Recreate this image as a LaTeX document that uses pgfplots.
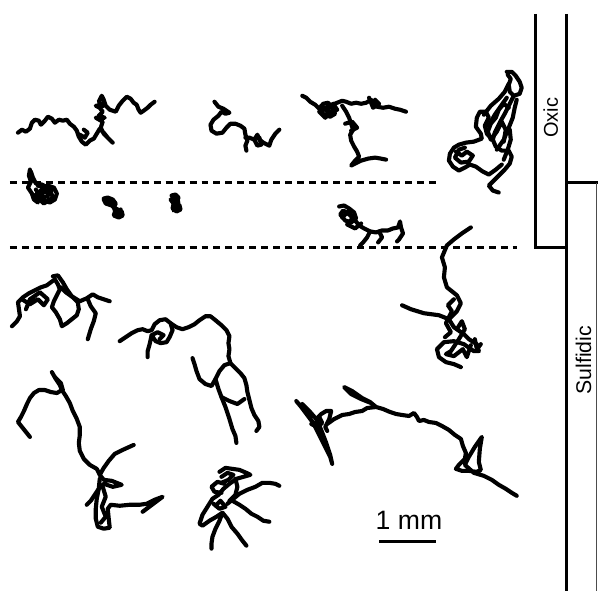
\documentclass[border=0pt]{standalone}
\usepackage{pgfplots}
\pgfplotsset{compat=1.18}
\usepackage{fontspec}
\setmainfont{Liberation Sans}
\pgfplotsset{traj/.style={black, line width=3.1pt, line join=round, line cap=round, mark=none}}
\begin{document}
\begin{tikzpicture}
\begin{axis}[scale only axis, width=449.25pt, height=444pt,
  xmin=0, xmax=599, ymin=0, ymax=592, y dir=reverse, hide axis, clip=false]
\addplot[draw=none, mark=none] coordinates {(0,0) (599,592)};
% A
\addplot[traj] coordinates {(18,133)(22,130)(26,132)(30,129)(32,123)(35,120)(39,121)(41,125)(45,121)(48,117)(52,119)(55,123)(59,120)(63,121)(67,120)(70,124)(74,127)(77,131)(79,137)(82,142)(86,145)(90,141)(94,139)(97,134)(100,129)(104,133)(108,138)(113,143)(109,139)(104,134)(101,128)(103,122)(96,118)(105,118)(99,116)(103,112)(100,108)(96,106)(104,106)(99,102)(102,96)(104,100)(106,106)(110,110)(116,112)(119,106)(123,101)(127,97)(131,99)(134,103)(137,105)(139,110)(141,113)(144,111)(148,108)(151,105)(155,102)};
\addplot[traj] coordinates {(80,135)(85,138)(88,133)(84,130)};
% B
\addplot[traj] coordinates {(30,170)(29,176)(31,182)(28,188)(32,194)(34,200)(38,203)(37,196)(42,190)(48,186)(54,188)(57,194)(55,200)(50,203)(44,201)(40,196)(45,192)(50,195)(48,188)(42,185)(36,184)(33,178)(31,172)};
\addplot[traj] coordinates {(36,190)(41,198)(47,197)(52,191)(46,189)(40,192)(35,196)(44,204)(53,198)(50,190)(38,186)};
% C
\addplot[traj] coordinates {(104,199)(108,198)(113,200)(116,204)(114,208)(118,210)(122,212)(123,216)(119,218)(114,216)(116,210)(112,206)(106,204)(104,200)(110,202)(118,214)(121,210)(117,216)(112,202)};
% D
\addplot[traj] coordinates {(172,196)(176,195)(179,198)(177,203)(180,206)(181,210)(177,212)(173,209)(174,204)(171,200)(176,200)(178,208)(174,211)(179,202)(174,198)};
% E
\addplot[traj] coordinates {(215,102)(219,107)(224,109)(230,113)(226,114)(222,112)(219,116)(214,120)(211,125)(212,131)(217,134)(223,133)(227,128)(231,124)(236,124)(241,126)(245,129)(246,135)(248,141)(246,146)(247,151)};
\addplot[traj] coordinates {(246,138)(250,138)(255,140)(258,135)(260,140)(264,143)(270,146)(272,140)(276,134)(280,130)};
\addplot[traj] coordinates {(255,140)(258,146)(262,145)(260,138)};
% F
\addplot[traj] coordinates {(303,96)(307,98)(311,102)(316,105)(320,109)(324,104)(329,103)(333,108)(336,114)(331,117)(325,115)(321,111)(327,108)(333,105)(338,103)(343,101)(347,102)(352,104)(357,103)(362,104)(367,103)(372,100)(375,103)(378,107)(384,108)(390,107)(396,109)(401,110)(407,112)};
\addplot[traj] coordinates {(320,112)(326,118)(332,112)(338,110)(334,104)(328,110)(322,106)(330,114)};
\addplot[traj] coordinates {(370,98)(374,108)(380,104)(376,100)};
\addplot[traj] coordinates {(343,106)(347,112)(350,118)(352,124)(354,130)(351,135)(352,141)(355,147)(358,152)(360,157)(356,161)(352,166)(356,164)(362,161)(369,159)(376,158)(382,159)(387,160)};
\addplot[traj] coordinates {(346,124)(353,122)(358,128)(352,131)};
% G
\addplot[traj] coordinates {(508,72)(513,72)(517,76)(521,82)(523,88)(521,94)(515,96)(511,92)(510,85)(512,79)(509,75)};
\addplot[traj] coordinates {(515,96)(512,102)(509,108)(506,114)(502,121)(499,127)(496,133)(494,140)(497,147)(503,151)(510,151)(513,157)(511,164)(506,170)(500,176)(495,181)(490,186)(494,191)(500,193)};
\addplot[traj] coordinates {(510,108)(505,104)(500,110)(497,118)(492,124)(489,132)(492,140)(498,132)(503,122)(507,130)(505,142)};
\addplot[traj] coordinates {(485,115)(492,106)(500,99)(506,92)(510,84)};
\addplot[traj] coordinates {(490,126)(496,115)(503,105)(508,98)};
\addplot[traj] coordinates {(498,150)(505,140)(510,128)(514,118)(516,108)(518,100)};
\addplot[traj] coordinates {(505,160)(509,150)(512,140)(511,130)};
\addplot[traj] coordinates {(494,140)(488,134)(486,126)(490,118)(487,112)(481,112)(478,118)(477,127)(482,134)(483,139)(475,142)(467,143)(460,145)(455,148)(451,154)(450,161)(454,167)(460,171)(466,168)(471,165)(477,167)(484,172)(490,175)(497,170)(503,165)};
\addplot[traj] coordinates {(457,152)(463,156)(468,152)(474,156)(470,162)(462,163)(456,158)(460,150)(466,148)};
% H
\addplot[traj] coordinates {(340,207)(345,206)(350,209)(355,213)(357,219)(352,223)(346,221)(341,215)(344,211)(350,215)(356,221)(360,226)(365,229)(371,232)(377,233)(383,231)(389,231)(394,229)(399,228)(401,222)(402,228)(404,234)(400,240)(398,242)};
\addplot[traj] coordinates {(343,218)(349,212)(354,218)(348,225)(356,229)(362,224)};
\addplot[traj] coordinates {(371,232)(368,238)(364,243)(361,246)};
\addplot[traj] coordinates {(380,232)(383,238)(379,243)};
% I
\addplot[traj] coordinates {(403,306)(412,310)(425,314)(440,316)(450,320)(458,312)(462,304)(458,296)(448,288)(445,278)(446,268)(443,258)(448,246)(455,240)(463,234)(472,228)};
\addplot[traj] coordinates {(450,320)(455,328)(465,335)(470,340)(478,345)(480,352)(475,352)(465,345)(455,342)(445,343)(438,350)(440,358)(447,363)(455,365)(462,368)};
\addplot[traj] coordinates {(455,300)(449,306)(453,312)(447,324)(452,333)(446,338)};
\addplot[traj] coordinates {(458,330)(463,322)(466,330)(460,340)(452,352)(447,355)(455,357)(464,350)(468,358)(472,346)};
\addplot[traj] coordinates {(476,340)(478,350)(482,345)};
% J
\addplot[traj] coordinates {(12,327)(17,322)(20,317)(19,310)(18,303)(23,298)(29,294)(35,291)(41,288)(47,286)(51,283)(55,280)(58,285)(60,290)(57,296)(54,302)(52,308)(56,313)(60,320)(62,327)(67,324)(72,320)(77,316)(79,310)(78,303)(73,298)(66,293)(61,288)};
\addplot[traj] coordinates {(53,277)(58,276)(63,283)(67,290)(72,297)(80,302)(87,299)(93,295)(98,298)(104,300)(110,302)};
\addplot[traj] coordinates {(88,300)(91,307)(96,314)(94,322)(91,330)(88,340)};
\addplot[traj] coordinates {(22,300)(30,305)(38,300)(44,306)(48,300)(40,293)(30,300)(26,310)};
% K
\addplot[traj] coordinates {(120,342)(126,338)(132,334)(138,331)(143,330)(148,332)(152,331)(155,325)(160,321)(166,320)(171,324)(173,331)(170,338)(167,343)(161,344)(156,342)(152,336)(150,345)(148,352)(148,358)};
\addplot[traj] coordinates {(152,336)(158,333)(164,336)(160,340)};
\addplot[traj] coordinates {(171,324)(177,328)(183,330)(189,328)(195,325)(200,321)(206,317)(211,317)(216,321)(222,326)(227,331)(230,337)(229,344)(230,350)(229,357)(231,364)(236,369)(241,374)(245,379)(247,386)(248,393)(250,401)(252,409)(255,416)(259,422)(260,428)(257,432)};
\addplot[traj] coordinates {(231,364)(225,366)(220,372)(216,380)(212,387)(206,385)(200,380)(197,372)(195,365)(193,359)};
\addplot[traj] coordinates {(216,380)(219,390)(222,398)(226,408)(230,420)(233,430)(236,437)(237,444)};
\addplot[traj] coordinates {(222,398)(230,402)(238,405)(245,400)};
% L
\addplot[traj] coordinates {(52,373)(56,380)(60,386)(62,391)(57,394)(51,393)(45,391)(39,391)(34,394)(30,399)(27,405)(24,412)(21,418)(18,423)(22,428)(26,433)(30,438)};
\addplot[traj] coordinates {(55,378)(61,384)(63,391)};
\addplot[traj] coordinates {(62,391)(66,397)(70,404)(73,412)(77,420)(80,428)(80,436)(79,444)(80,452)(84,460)(90,466)(97,470)(100,476)(104,469)(109,462)(115,455)(123,451)(134,446)};
\addplot[traj] coordinates {(100,476)(104,481)(112,482)(122,486)(113,488)(104,485)(99,490)(95,496)(91,502)(87,506)};
\addplot[traj] coordinates {(100,480)(99,490)(97,500)(96,510)(96,520)(98,528)(104,530)(110,529)(109,520)(108,510)(111,506)(120,507)(130,506)(140,506)(147,505)(155,501)(163,498)(155,504)(147,510)(143,513)};
\addplot[traj] coordinates {(103,488)(106,498)(102,508)(106,518)(101,524)};
% M
\addplot[traj] coordinates {(220,473)(226,469)(233,470)(240,471)(247,474)(251,476)(244,478)(237,480)(230,485)(224,490)(219,496)(213,500)(208,508)(203,516)(200,525)(203,527)(210,522)(217,518)(223,514)(228,520)(232,528)(238,535)(243,542)(247,547)};
\addplot[traj] coordinates {(223,514)(220,522)(216,530)(213,538)(212,545)(212,550)};
\addplot[traj] coordinates {(228,505)(234,500)(240,495)(248,491)(256,488)(263,484)(270,484)(276,485)(280,487)};
\addplot[traj] coordinates {(233,502)(240,506)(246,510)(252,515)(258,518)(264,522)(270,523)};
\addplot[traj] coordinates {(225,485)(218,483)(212,488)(215,493)(222,494)};
\addplot[traj] coordinates {(236,480)(238,488)(236,496)(230,502)};
\addplot[traj] coordinates {(222,478)(228,474)(234,476)(229,481)(222,484)};
\addplot[traj] coordinates {(214,505)(220,510)(226,508)(221,502)(216,507)};
% N
\addplot[traj] coordinates {(297,402)(302,408)(308,416)(314,424)(320,436)(326,448)(331,458)(333,465)(331,456)(327,444)(322,431)(317,420)(310,412)(303,405)};
\addplot[traj] coordinates {(317,420)(322,415)(327,412)(332,412)(330,420)(326,428)(328,432)};
\addplot[traj] coordinates {(312,425)(318,428)(323,424)(320,418)};
\addplot[traj] coordinates {(328,425)(335,420)(343,416)(350,415)(356,413)(363,412)(368,409)(377,408)(372,404)(362,400)(352,395)(345,388)(353,392)(363,399)(371,403)(377,408)(384,410)(391,413)(397,415)(403,416)(410,417)(415,414)(418,418)(420,422)(425,421)(430,423)(437,424)(443,427)(450,431)(456,436)(462,440)(464,447)(467,454)(466,460)(460,466)(457,470)(463,472)(470,472)(478,473)(482,471)(480,463)(481,450)(483,438)(476,448)(470,458)(466,466)(475,474)(485,477)(493,481)(500,486)(507,490)(513,494)(518,497)};
% dashed lines
\addplot[black, line width=2.4pt, dash pattern=on 5.25pt off 3.75pt, mark=none] coordinates {(10,183)(440,183)};
\addplot[black, line width=2.4pt, dash pattern=on 5.25pt off 3.75pt, mark=none] coordinates {(10,248)(518,248)};
% scale bar
\addplot[black, line width=2.2pt, mark=none] coordinates {(380,543)(437,543)};
\node[font=\fontsize{20pt}{20pt}\selectfont] at (axis cs:410,522) {1 mm};
% right panel
\addplot[black, line width=2.2pt, mark=none] coordinates {(537,14)(537,248)(568,248)};
\addplot[black, line width=2.2pt, mark=none] coordinates {(568,14)(568,592)};
\addplot[black, line width=2.2pt, mark=none] coordinates {(568,183)(599,183)};
\addplot[black!70, line width=0.8pt, mark=none] coordinates {(598,183)(598,592)};
\node[rotate=90, font=\fontsize{15pt}{15pt}\selectfont] at (axis cs:552,118) {Oxic};
\node[rotate=90, font=\fontsize{16pt}{16pt}\selectfont] at (axis cs:585,361) {Sulfidic};
\end{axis}
\end{tikzpicture}
\end{document}
